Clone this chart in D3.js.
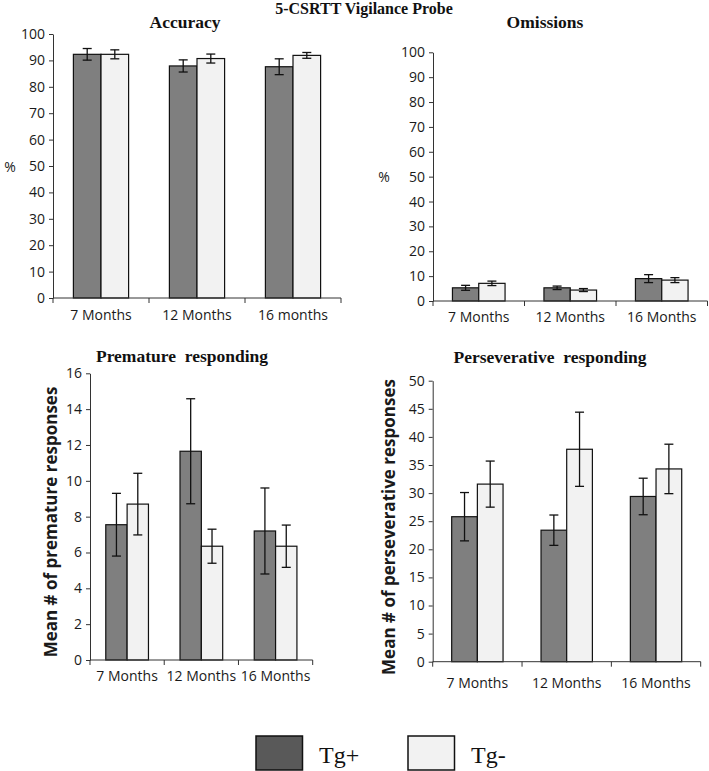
<!DOCTYPE html>
<html>
<head>
<meta charset="utf-8">
<script src="https://cdn.jsdelivr.net/npm/d3@7/dist/d3.min.js"></script>
<style>
  html, body { margin: 0; padding: 0; background: #fff; }
  svg { display: block; }
  .tick text { font-family: "Open Sans", sans-serif; font-size: 14px; fill: #1a1a1a; }
  .ttl { font-family: "Liberation Serif", "DejaVu Serif", serif; font-weight: bold; fill: #111; }
</style>
</head>
<body>
<svg id="chart" width="709" height="771"></svg>
<script>
"use strict";

// categories
var months = ["7 Months", "12 Months", "16 Months"];
var accuracyMonths = ["7 Months", "12 Months", "16 months"];
var groups = ["Tg+", "Tg-"];

// Accuracy (%)
var accuracyTgPos = [92.3, 87.9, 87.6];
var accuracyTgPosErr = [2.2, 2.3, 3.0];
var accuracyTgNeg = [92.3, 90.7, 91.9];
var accuracyTgNegErr = [1.7, 1.7, 1.1];

// Omissions (%)
var omissionsTgPos = [5.3, 5.3, 9.0];
var omissionsTgPosErr = [1.0, 0.7, 1.6];
var omissionsTgNeg = [7.1, 4.4, 8.4];
var omissionsTgNegErr = [0.9, 0.6, 1.0];

// Premature responding
var prematureTgPos = [7.55, 11.65, 7.2];
var prematureTgPosErr = [1.75, 2.93, 2.4];
var prematureTgNeg = [8.7, 6.35, 6.35];
var prematureTgNegErr = [1.72, 0.95, 1.18];

// Perseverative responding
var perseverativeTgPos = [25.8, 23.4, 29.4];
var perseverativeTgPosErr = [4.3, 2.7, 3.25];
var perseverativeTgNeg = [31.6, 37.8, 34.3];
var perseverativeTgNegErr = [4.1, 6.6, 4.4];

var colors = { "Tg+": "#7f7f7f", "Tg-": "#f2f2f2" };
var legendColors = { "Tg+": "#595959", "Tg-": "#f2f2f2" };

var panels = [
    { title: "Accuracy", cats: accuracyMonths, max: 100, step: 10,
      pos: accuracyTgPos, posErr: accuracyTgPosErr, neg: accuracyTgNeg, negErr: accuracyTgNegErr,
      x0: 53, x1: 341, yTop: 34, yBot: 298, titleX: 185, titleY: 28, xLabDy: 22,
      yLabel: "%", yLabX: 10, yLabY: 172, yLabBold: false },
    { title: "Omissions", cats: months, max: 100, step: 10,
      pos: omissionsTgPos, posErr: omissionsTgPosErr, neg: omissionsTgNeg, negErr: omissionsTgNegErr,
      x0: 433, x1: 707.5, yTop: 52.3, yBot: 301, titleX: 545, titleY: 28, xLabDy: 21,
      yLabel: "%", yLabX: 384, yLabY: 182, yLabBold: false },
    { title: "Premature\u00a0 responding", cats: months, max: 16, step: 2,
      pos: prematureTgPos, posErr: prematureTgPosErr, neg: prematureTgNeg, negErr: prematureTgNegErr,
      x0: 90, x1: 312.7, yTop: 373.3, yBot: 660, titleX: 182, titleY: 362, xLabDy: 21,
      yLabel: "Mean # of premature responses", yLabX: 51, yLabY: 522, yLabBold: true },
    { title: "Perseverative\u00a0 responding", cats: months, max: 50, step: 5,
      pos: perseverativeTgPos, posErr: perseverativeTgPosErr, neg: perseverativeTgNeg, negErr: perseverativeTgNegErr,
      x0: 432.7, x1: 700.7, yTop: 380.7, yBot: 661.7, titleX: 550, titleY: 363, xLabDy: 26,
      yLabel: "Mean # of perseverative responses", yLabX: 389, yLabY: 527, yLabBold: true }
];

var svg = d3.select("#chart");

svg.append("text").attr("class", "ttl")
    .attr("x", 364).attr("y", 14)
    .attr("text-anchor", "middle")
    .style("font-size", "16px")
    .text("5-CSRTT Vigilance Probe");

panels.forEach(function (p) {
    var g = svg.append("g");
    var x = d3.scaleBand().domain(p.cats).range([p.x0, p.x1]);
    var sub = d3.scaleBand().domain(groups)
        .range([x.bandwidth() * 0.2125, x.bandwidth() * 0.7875]);
    var y = d3.scaleLinear().domain([0, p.max]).range([p.yBot, p.yTop]);

    var rows = [];
    p.cats.forEach(function (c, i) {
        rows.push({ cat: c, grp: "Tg+", v: p.pos[i], e: p.posErr[i] });
        rows.push({ cat: c, grp: "Tg-", v: p.neg[i], e: p.negErr[i] });
    });

    g.selectAll("rect.bar").data(rows).enter().append("rect")
        .attr("class", "bar")
        .attr("x", function (d) { return x(d.cat) + sub(d.grp); })
        .attr("y", function (d) { return y(d.v); })
        .attr("width", sub.bandwidth())
        .attr("height", function (d) { return y(0) - y(d.v); })
        .attr("fill", function (d) { return colors[d.grp]; })
        .attr("stroke", "#111").attr("stroke-width", 1.2);

    var eb = g.selectAll("g.err").data(rows).enter().append("g").attr("class", "err")
        .attr("stroke", "#111").attr("stroke-width", 1.3);
    var cx = function (d) { return x(d.cat) + sub(d.grp) + sub.bandwidth() / 2; };
    eb.append("line")
        .attr("x1", cx).attr("x2", cx)
        .attr("y1", function (d) { return y(d.v + d.e); })
        .attr("y2", function (d) { return y(d.v - d.e); });
    [1, -1].forEach(function (s) {
        eb.append("line")
            .attr("x1", function (d) { return cx(d) - 4.5; })
            .attr("x2", function (d) { return cx(d) + 4.5; })
            .attr("y1", function (d) { return y(d.v + s * d.e); })
            .attr("y2", function (d) { return y(d.v + s * d.e); });
    });

    // y axis
    var yAxis = g.append("g").attr("transform", "translate(" + p.x0 + ",0)")
        .call(d3.axisLeft(y).tickValues(d3.range(0, p.max + p.step / 2, p.step))
            .tickSize(4).tickPadding(4).tickSizeOuter(0));
    yAxis.select(".domain").attr("stroke", "#333");
    yAxis.selectAll(".tick line").attr("stroke", "#333");

    // x axis with ticks on category boundaries
    var xAxis = g.append("g").attr("transform", "translate(0," + p.yBot + ")");
    xAxis.append("line").attr("x1", p.x0).attr("x2", p.x1)
        .attr("stroke", "#333");
    var edges = p.cats.map(function (c) { return x(c); }).concat([p.x1]);
    xAxis.selectAll("line.tk").data(edges).enter().append("line")
        .attr("class", "tk")
        .attr("x1", function (d) { return d; }).attr("x2", function (d) { return d; })
        .attr("y1", 0).attr("y2", 5).attr("stroke", "#333");
    xAxis.selectAll("text").data(p.cats).enter().append("text")
        .attr("x", function (d) { return x(d) + x.bandwidth() / 2; })
        .attr("y", p.xLabDy)
        .attr("text-anchor", "middle")
        .style("font-family", "'Open Sans', sans-serif")
        .style("font-size", "14px").style("fill", "#1a1a1a")
        .text(function (d) { return d; });

    // titles
    g.append("text").attr("class", "ttl")
        .attr("x", p.titleX).attr("y", p.titleY)
        .attr("text-anchor", "middle")
        .style("font-size", "17.5px")
        .text(p.title);

    var yl = g.append("text")
        .attr("text-anchor", "middle")
        .style("font-family", "'Open Sans', sans-serif")
        .style("fill", "#1a1a1a")
        .text(p.yLabel);
    if (p.yLabBold) {
        yl.attr("transform", "translate(" + p.yLabX + "," + p.yLabY + ") rotate(-90)")
            .attr("dy", "0.35em")
            .style("font-size", "17px").style("font-weight", "bold");
    } else {
        yl.attr("x", p.yLabX).attr("y", p.yLabY).style("font-size", "14px");
    }
});

// legend
var legendX = d3.scalePoint().domain(groups).range([256, 408]);
var lg = svg.selectAll("g.legend").data(groups).enter().append("g")
    .attr("class", "legend")
    .attr("transform", function (d) { return "translate(" + legendX(d) + ",736)"; });
lg.append("rect").attr("width", 46.5).attr("height", 34)
    .attr("fill", function (d) { return legendColors[d]; })
    .attr("stroke", "#111").attr("stroke-width", 1.5);
lg.append("text").attr("x", 63).attr("y", 27)
    .style("font-family", "'Liberation Serif', serif")
    .style("font-size", "24px").style("fill", "#111")
    .text(function (d) { return d; });
</script>
</body>
</html>
